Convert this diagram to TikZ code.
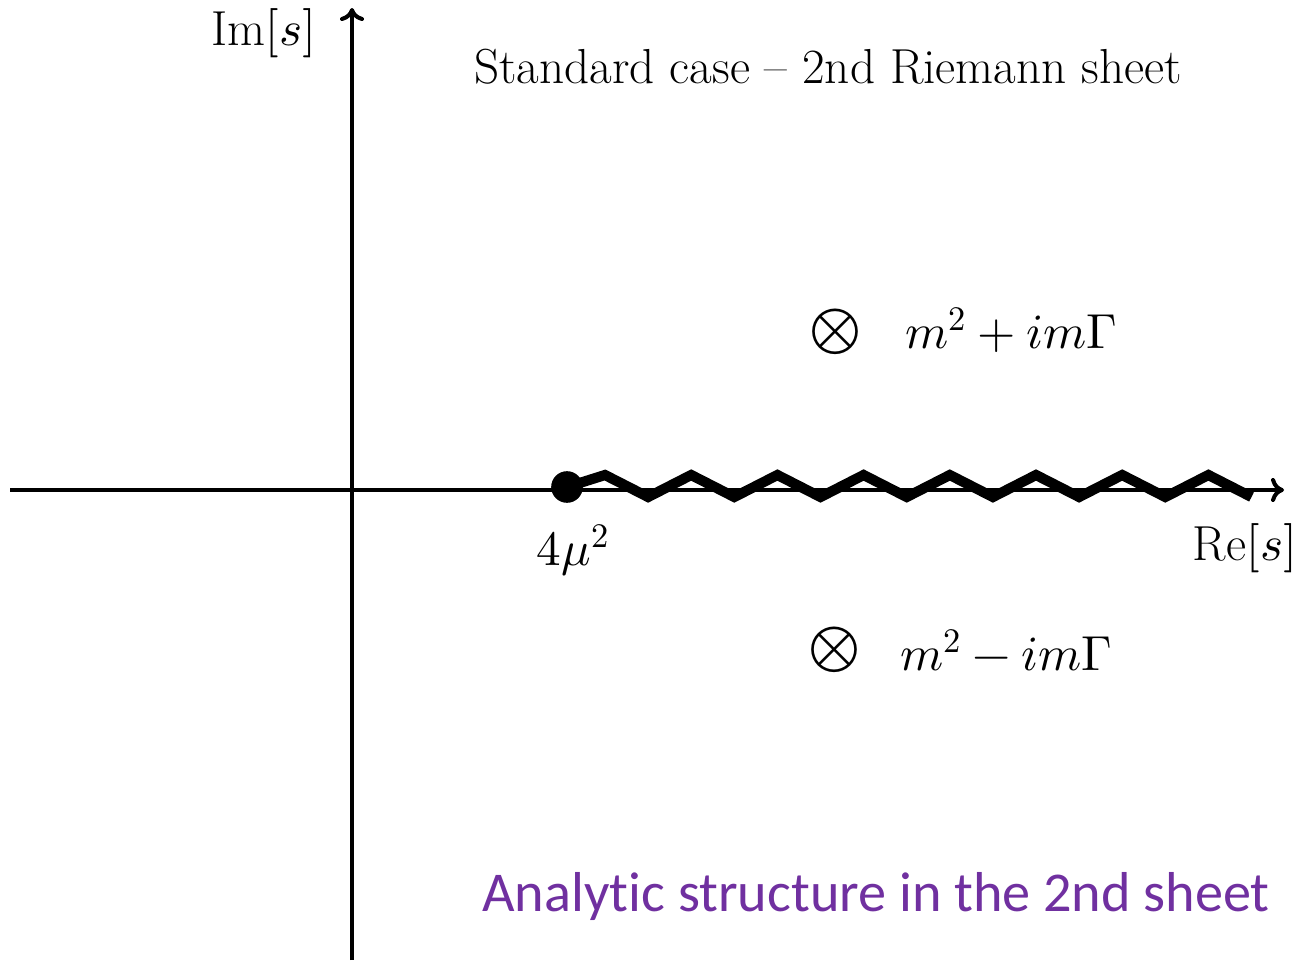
\documentclass[tikz,border=0pt]{standalone}
\usepackage{fontspec}
\usepackage{unicode-math}
\usetikzlibrary{arrows.meta}
\newfontfamily\calibrifont[Ligatures=NoCommon]{Carlito}
\definecolor{notepurple}{HTML}{7030A0}
\tikzset{
  axis/.style={line width=2.3pt, -{To[length=2.6mm, width=4.8mm]}},
  cut/.style={line width=5.8pt, line join=miter},
  thrdot/.style={circle, fill=black, inner sep=0pt, minimum size=18pt},
  lbl/.style={font=\fontsize{28}{34}\selectfont, inner sep=0pt},
  polemark/.style={font=\fontsize{38}{40}\selectfont, inner sep=0pt},
  note/.style={font=\calibrifont\fontsize{32}{38}\selectfont, text=notepurple, inner sep=0pt}
}
\def\axY{490}
\def\axX{352}

\begin{document}
\begin{tikzpicture}[x=0.02cm, y=-0.02cm]
\useasboundingbox (0,0) rectangle (1298,960);

%% Axes
\coordinate (reL) at (10,\axY);
\coordinate (reR) at (1284,\axY);
\coordinate (imB) at (\axX,960);
\coordinate (imT) at (\axX,8);
\draw[axis] (reL) -- (reR);
\draw[axis] (imB) -- (imT);

%% Axis labels and title
\node[lbl] (imlab) at (264,33) {Im$[s]$};
\node[lbl] (relab) at (1245,548) {Re$[s]$};
\node[lbl] (title) at (828,67) {Standard case -- 2nd Riemann sheet};

%% Branch point and cut
\node[thrdot] (thr) at (567,487) {};
\node[lbl] (thrlab) at (573,550) {$4\mu^2$};
\draw[cut] (thr.center) -- (605,475)
  \foreach \k in {0,...,6} { -- ++(43.1,22) -- ++(43.1,-22) } -- ++(43.1,22);

%% Resonance poles
\node[polemark] (polup) at (835,332) {$\otimes$};
\node[lbl, anchor=west] (poluplab) at (905,330) {$m^2+im\Gamma$};
\node[polemark] (poldn) at (834,650) {$\otimes$};
\node[lbl, anchor=west] (poldnlab) at (900,650) {$m^2-im\Gamma$};

%% Caption
\node[note] (caption) at (876,896) {Analytic structure in the 2nd sheet};

\end{tikzpicture}
\end{document}
